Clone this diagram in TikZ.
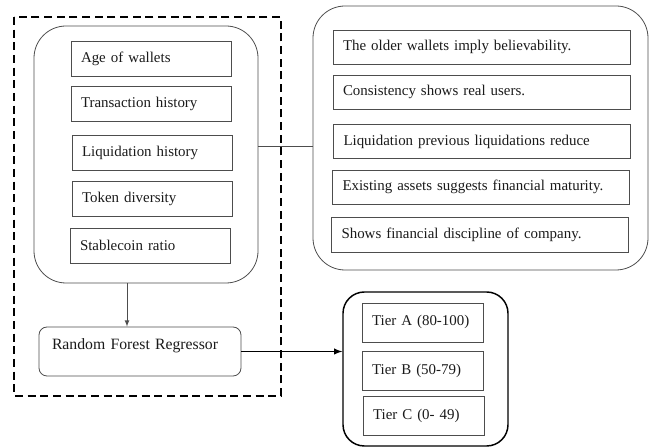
\documentclass[tikz,border=0pt]{standalone}
\usepackage{fontspec}
\setmainfont{Liberation Serif}
\usepackage{xcolor}
\usepackage{tikz}
\definecolor{boxgray}{HTML}{4D4D4D}
\definecolor{txtgray}{HTML}{1A1A1A}

\begin{document}
\begin{tikzpicture}[x=0.75pt, y=-0.75pt,
    every node/.style={text=txtgray, font=\fontsize{11.2}{13}\selectfont},
    feature/.style={draw=boxgray, line width=0.6pt, minimum width=120pt, minimum height=26.25pt,
      text width=105pt, inner xsep=7.5pt, align=left},
    reason/.style={draw=boxgray, line width=0.6pt, minimum width=222.75pt, minimum height=25.5pt,
      text width=207.75pt, inner xsep=7.5pt, align=left},
    tier/.style={draw=boxgray, line width=0.6pt, text width=75.75pt, inner xsep=7.5pt, inner ysep=0pt,
      text height=17.25pt, text depth=12pt, align=left},
    group/.style={draw=boxgray, line width=0.6pt, rounded corners=24pt, inner sep=0pt}
  ]
    \useasboundingbox (0,0) rectangle (654,448);
    \coordinate (lnk) at (0,146);
    \coordinate (down) at (127,0);

    \draw[dashed, line width=1.1pt, dash pattern=on 6pt off 3.5pt] (14,17) rectangle (281,396);

    \node[group, minimum width=168pt, minimum height=192.75pt] (feat) at (146,154.5) {};
    \node[group, minimum width=251.25pt, minimum height=198pt] (expl) at (480.5,138) {};
    \node[group, draw=black, line width=1.1pt, rounded corners=16pt, minimum width=123.75pt, minimum height=115.5pt] (tiers) at (425.5,369) {};

    \node[feature] (age) at (151,58.5) {Age of wallets};
    \node[feature] (trans) at (151,103.5) {Transaction history};
    \node[feature] (liq) at (152,152.5) {Liquidation history};
    \node[feature] (token) at (152,198.5) {Token diversity};
    \node[feature] (stable) at (150,245.5) {Stablecoin ratio};

    \node[reason] (older) at (481.5,47) {The older wallets imply believability.};
    \node[reason] (consist) at (481.5,92) {Consistency shows real users.};
    \node[reason] (liqred) at (482,141.5) {Liquidation previous liquidations reduce};
    \node[reason] (assets) at (481,187) {Existing assets suggests financial maturity.};
    \node[reason, minimum height=26.25pt] (discip) at (480,234.5) {Shows financial discipline of company.};

    \node[draw=boxgray, line width=0.6pt, rounded corners=6pt, text width=132pt, inner xsep=9.75pt, inner ysep=0pt,
      text height=17.25pt, text depth=19.5pt, align=left, font=\fontsize{11.8}{13}\selectfont] (rfr) at (140,351.5) {Random Forest Regressor};

    \node[tier] (tierA) at (422.5,322.5) {Tier A (80-100)};
    \node[tier] (tierB) at (422.5,371) {Tier B (50-79)};
    \node[tier] (tierC) at (423.5,416) {Tier C (0- 49)};

    \draw[boxgray, line width=0.6pt] (feat.east |- lnk) -- (expl.west |- lnk);
    \draw[-latex, boxgray, line width=0.6pt] (feat.south -| down) -- (rfr.north -| down);
    \draw[-latex, line width=1.1pt] (rfr.east) -- (tiers.west |- rfr.east);
  \end{tikzpicture}
\end{document}
